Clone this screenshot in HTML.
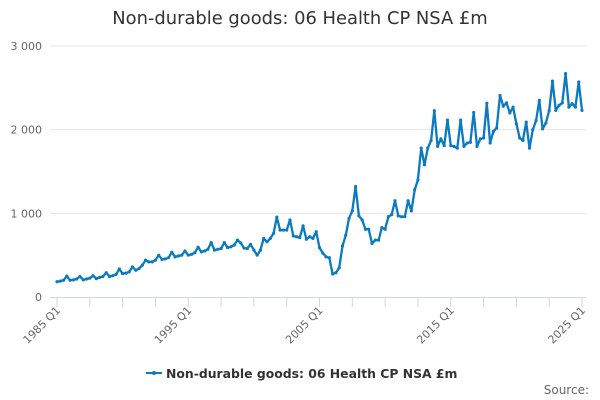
<!DOCTYPE html>
<html><head><meta charset="utf-8"><style>
html,body{margin:0;padding:0;background:#fff;width:600px;height:400px;overflow:hidden}
svg text{font-family:"DejaVu Sans","Liberation Sans",sans-serif}
</style></head><body>
<svg id="chart" width="600" height="400" viewBox="0 0 600 400" xmlns="http://www.w3.org/2000/svg">
<text x="300" y="24" text-anchor="middle" font-size="17.9" fill="#333">Non-durable goods: 06 Health CP NSA £m</text>
<g id="grid"></g><g id="yl"></g><g id="xa"></g>
<polyline id="line" fill="none" stroke="#0b7ac0" stroke-width="2.3" stroke-linejoin="round"/>
<g id="pts"></g>
<g>
<line x1="146" y1="373" x2="162" y2="373" stroke="#0b7ac0" stroke-width="2"/>
<circle cx="154" cy="373" r="2" fill="#0b7ac0"/>
<text x="166" y="378" font-size="12.4" font-weight="bold" fill="#333">Non-durable goods: 06 Health CP NSA £m</text>
</g>
<text x="589" y="394" text-anchor="end" font-size="12" fill="#666">Source:</text>
</svg>
<script>
const startYear = 1985;
const yTicks = [0, 1000, 2000, 3000];
const yTickLabels = ["0", "1 000", "2 000", "3 000"];
const xLabels = ["1985 Q1", "1995 Q1", "2005 Q1", "2015 Q1", "2025 Q1"];
const values = [
183,190,200,250, 200,205,215,245, 205,215,225,255, 220,235,245,290, 245,255,270,335,
280,285,300,360, 320,340,380,440, 420,420,440,500, 450,455,470,535, 480,490,500,550,
500,510,530,595, 540,550,570,650, 560,570,580,650, 590,600,620,680, 645,585,580,630,
560,500,560,700, 660,700,760,955, 800,800,800,920, 730,720,710,850, 690,720,700,780,
590,525,480,470, 275,290,350,610, 740,940,1030,1320, 970,920,810,810, 640,680,680,830,
810,960,985,1150, 970,960,960,1150, 1030,1280,1400,1780, 1580,1780,1870,2226, 1800,1890,1810,2115,
1810,1800,1780,2115, 1800,1840,1850,2206, 1800,1890,1900,2316, 1840,1980,2020,2408, 2280,2320,2200,2270,
2070,1900,1870,2090, 1780,2000,2110,2350, 2010,2080,2230,2580, 2230,2290,2320,2670, 2270,2310,2270,2570,
2230];
const NS="http://www.w3.org/2000/svg";
const x0=57,x1=582,y0=297,y1=46,ymax=3000;
const n=values.length;
const xs=i=>x0+(x1-x0)*i/(n-1);
const ys=v=>y0-(y0-y1)*v/ymax;
function mk(tag,attrs,parent){const e=document.createElementNS(NS,tag);for(const k in attrs)e.setAttribute(k,attrs[k]);parent.appendChild(e);return e;}
const grid=document.getElementById('grid'),yl=document.getElementById('yl'),xa=document.getElementById('xa');
yTicks.forEach((t,i)=>{
  if(t>0){const g=mk('line',{x1:50,x2:586,y1:ys(t),y2:ys(t),stroke:'#e6e6e6','stroke-width':1},grid);
  
  }
  const tx=mk('text',{x:42,y:ys(t)+4,'text-anchor':'end','font-size':11,fill:'#666'},yl);
  tx.textContent=yTickLabels[i];
  
  
});
const ax=mk('line',{x1:50,x2:586,y1:y0+0.5,y2:y0+0.5,stroke:'#ccd6eb','stroke-width':1},xa);


for(let k=0;k<=16;k++){
  const xx=x0+(x1-x0)*k/16;
  const tk=mk('line',{x1:xx,x2:xx,y1:y0,y2:y0+10,stroke:'#ccd6eb','stroke-width':1},xa);
  
  
}
xLabels.forEach((l,k)=>{
  const xx=x0+(x1-x0)*k/4;
  const tx=mk('text',{x:xx+4,y:y0+14,'text-anchor':'end','font-size':11,fill:'#666',transform:`rotate(-45 ${xx+4} ${y0+14})`},xa);
  tx.textContent=l;
  
  
});
document.getElementById('line').setAttribute('points',values.map((v,i)=>xs(i).toFixed(1)+','+ys(v).toFixed(1)).join(' '));
const pts=document.getElementById('pts');
values.forEach((v,i)=>{
  const c=mk('circle',{cx:xs(i),cy:ys(v),r:1.6,fill:'#0b7ac0'},pts);
  
  
});
</script>
</body></html>
